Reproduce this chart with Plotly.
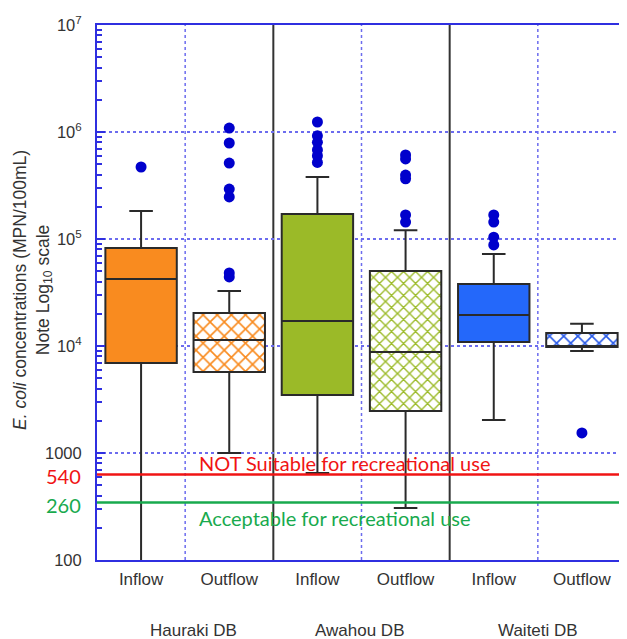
import math
import plotly.graph_objects as go

# ---------------- data ----------------
categories = ["Inflow", "Outflow", "Inflow", "Outflow", "Inflow", "Outflow"]
groups = ["Hauraki DB", "Awahou DB", "Waiteti DB"]

q1 = [6930, 5720, 3480, 2470, 10900, 9800]
median = [42300, 11400, 17100, 8790, 19500, 10000]
q3 = [82400, 20300, 171000, 50200, 37900, 13200]
lower_whisker = [90, 1000, 650, 306, 2030, 8980]
upper_whisker = [183000, 32700, 379000, 121000, 72400, 16100]

outliers = [
    [471000],
    [1089000, 789000, 513000, 293000, 247000, 48100, 44200],
    [1240000, 920000, 800000, 680000, 600000, 520000],
    [610000, 560000, 396000, 365000, 168000, 144000],
    [168000, 144000, 104000, 88000],
    [1540],
]

threshold_labels = ["540", "260"]
threshold_line_values = [630, 345]
threshold_texts = ["NOT Suitable for recreational use", "Acceptable for recreational use"]

ytick_vals = [100, 1000, 1e4, 1e5, 1e6, 1e7]
ytick_text = ["100", "1000", "10<sup>4</sup>", "10<sup>5</sup>", "10<sup>6</sup>", "10<sup>7</sup>"]

# ---------------- styles ----------------
ORANGE = "#F98B1F"
GREEN = "#9BBA28"
BLUE = "#2468FA"
HATCH_BLUE = "#2A5BE8"
fill_colors = [ORANGE, "white", GREEN, "white", BLUE, "white"]
pattern_fg = [ORANGE, ORANGE, GREEN, GREEN, BLUE, HATCH_BLUE]
pattern_shape = ["", "x", "", "x", "", "x"]
pattern_size = [10, 10, 10, 8.5, 10, 10]
AXIS_BLUE = "#2F2FE0"
GRID_BLUE = "#6C6CEE"
BOX_LINE = "#2a2a2a"
TXT = "#333333"
FONT = "Liberation Sans, Arial, sans-serif"
xpos = list(range(len(categories)))
BW = 0.81

# page body has an 8px margin: the figure is sized so the plot sits where the reference has it
OFF = 8
W, H = 627 - OFF, 639 - OFF
PL, PR, PT, PB = 97 - OFF, 626 - OFF, 25 - OFF, 560 - OFF  # plot area in figure pixels
PW, PH = PR - PL, PB - PT


def px_x(xw):  # window pixel -> paper x
    return (xw - 97) / PW


def px_y(yw):  # window pixel -> paper y
    return (560 - yw) / PH


fig = go.Figure()

# box bodies (fill / hatch)
for i in xpos:
    fig.add_trace(go.Bar(
        x=[i], base=[q1[i]], y=[q3[i] - q1[i]], width=BW,
        marker=dict(color=fill_colors[i], line=dict(width=0),
                    pattern=dict(shape=pattern_shape[i], fgcolor=pattern_fg[i],
                                 bgcolor=fill_colors[i], size=pattern_size[i],
                                 solidity=0.3, fillmode="replace")),
        showlegend=False, hoverinfo="skip"))

# box outlines, medians and whiskers
fig.add_trace(go.Box(
    x=xpos, q1=q1, median=median, q3=q3,
    lowerfence=lower_whisker, upperfence=upper_whisker,
    width=BW, whiskerwidth=0.33, fillcolor="rgba(0,0,0,0)",
    line=dict(color=BOX_LINE, width=2), boxpoints=False, showlegend=False))

# outliers
ox, oy = [], []
for i, vals in enumerate(outliers):
    ox += [i] * len(vals)
    oy += vals
fig.add_trace(go.Scatter(x=ox, y=oy, mode="markers",
                         marker=dict(color="#0000CC", size=11), showlegend=False))

# threshold lines
line_colors = ["#F01414", "#18AA4E"]
for v, c in zip(threshold_line_values, line_colors):
    fig.add_trace(go.Scatter(x=[-0.5, 5.5], y=[v, v], mode="lines",
                             line=dict(color=c, width=2.5), showlegend=False, hoverinfo="skip"))

# separators
shapes = []
for xv in [0.5, 2.5, 4.5, 5.5]:
    shapes.append(dict(type="line", xref="x", yref="paper", x0=xv, x1=xv, y0=0, y1=1,
                       line=dict(color=GRID_BLUE, width=1.5, dash="dot"), layer="below"))
for xv in [1.5, 3.5]:
    shapes.append(dict(type="line", xref="x", yref="paper", x0=xv, x1=xv, y0=0, y1=1,
                       line=dict(color="#333333", width=2), layer="below"))

annotations = []
# threshold labels on the axis
for lab, yw, c in zip(threshold_labels, [476, 505], line_colors):
    annotations.append(dict(text=lab, xref="paper", yref="paper", x=px_x(83), y=px_y(yw),
                            xanchor="right", yanchor="middle", showarrow=False,
                            font=dict(family="Lato, sans-serif", size=20, color=c)))
# threshold texts
annotations.append(dict(text=threshold_texts[0], xref="paper", yref="paper", x=px_x(197),
                        y=px_y(463), xanchor="left", yanchor="middle", showarrow=False,
                        font=dict(family="Lato, sans-serif", size=20, color=line_colors[0])))
annotations.append(dict(text=threshold_texts[1], xref="paper", yref="paper", x=px_x(197),
                        y=px_y(518), xanchor="left", yanchor="middle", showarrow=False,
                        font=dict(family="Lato, sans-serif", size=20, color=line_colors[1])))
# group labels
for g, gx in zip(groups, [193, 359, 538]):
    annotations.append(dict(text=g, xref="paper", yref="paper", x=px_x(gx), y=px_y(630),
                            xanchor="center", yanchor="middle",
                            showarrow=False, font=dict(family=FONT, size=17, color=TXT)))
# y title
annotations.append(dict(text="<i>E. coli</i> concentrations (MPN/100mL)<br>Note Log<sub>10</sub> scale",
                        xref="paper", yref="paper", x=px_x(32), y=px_y(290),
                        xanchor="center", yanchor="middle", textangle=-90, showarrow=False,
                        font=dict(family=FONT, size=17.5, color=TXT)))

minor_vals = [m * 10 ** d for d in range(2, 7) for m in range(2, 10)]

fig.update_layout(
    width=W, height=H,
    margin=dict(l=PL, r=W - PR, t=PT, b=H - PB),
    paper_bgcolor="white", plot_bgcolor="white",
    barmode="overlay", boxmode="overlay",
    shapes=shapes, annotations=annotations,
    xaxis=dict(range=[-0.5, 5.5], tickvals=xpos, ticktext=categories, ticks="",
               showgrid=False, zeroline=False, showline=True, linecolor=AXIS_BLUE,
               linewidth=2, mirror=True, ticklabelstandoff=3,
               tickfont=dict(family=FONT, size=17, color=TXT)),
    yaxis=dict(type="log", range=[2, 7], tickvals=ytick_vals, ticktext=ytick_text,
               ticks="inside", ticklen=8, tickwidth=2, tickcolor=AXIS_BLUE,
               showgrid=True, gridcolor=GRID_BLUE, griddash="dot", gridwidth=1.5,
               showline=True, linecolor=AXIS_BLUE, linewidth=2, zeroline=False,
               ticklabelstandoff=10,
               minor=dict(tickvals=minor_vals, ticks="inside", ticklen=5, tickwidth=1.5,
                          tickcolor=AXIS_BLUE, showgrid=False),
               tickfont=dict(family=FONT, size=16.5, color=TXT)),
)

fig.write_html("out.html")
